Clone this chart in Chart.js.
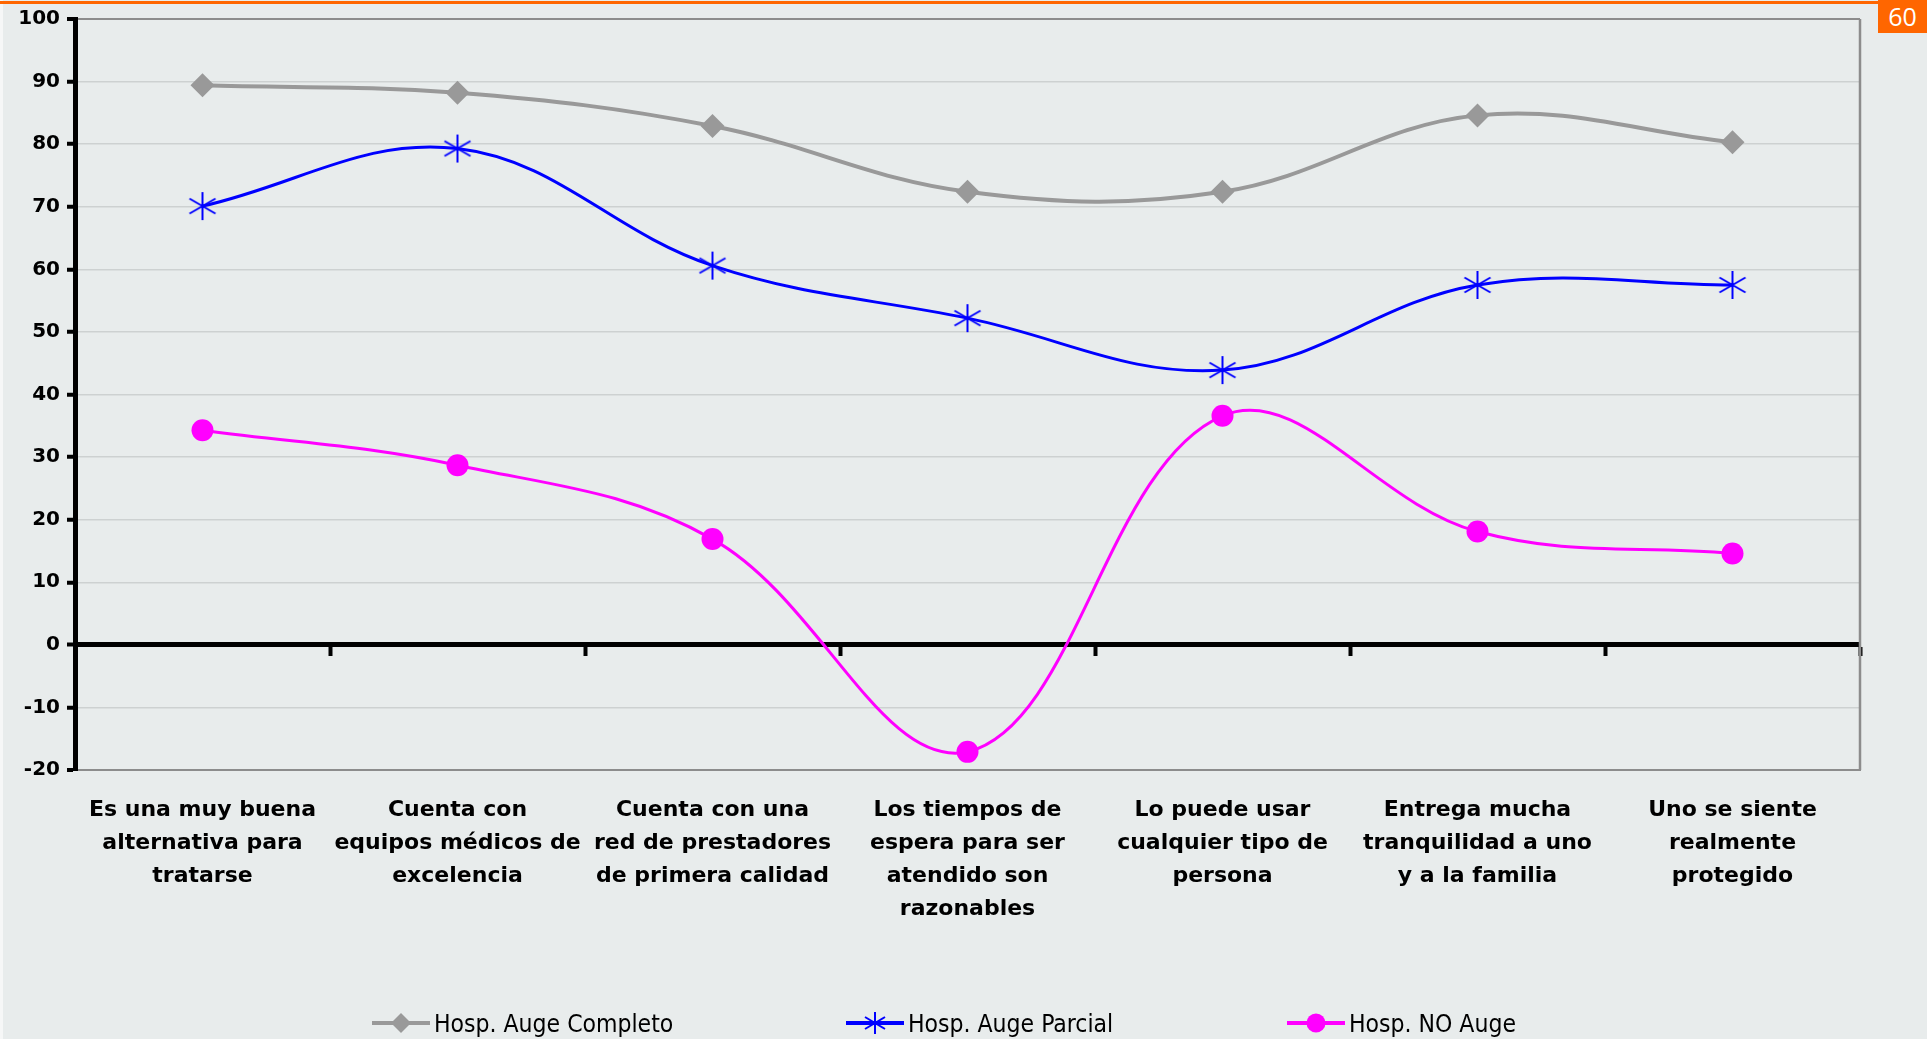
<!DOCTYPE html>
<html>
<head>
<meta charset="utf-8">
<script src="https://cdn.jsdelivr.net/npm/chart.js@4.4.1/dist/chart.umd.min.js"></script>
<style>
  html, body { margin: 0; padding: 0; background: #e8ecec; overflow: hidden; }
  #wrap { position: relative; width: 1927px; height: 1039px; background: #e8ecec; }
  #wrap canvas { position: absolute; left: 0; top: 0; }
  #leftstrip { position: absolute; left: 0; top: 0; width: 3px; height: 1039px; background: #f6f7f7; }
  #topbar { position: absolute; left: 0; top: 1px; width: 1927px; height: 3px; background: #ff6600; }
  #badge { position: absolute; left: 1878px; top: 0; width: 49px; height: 33px; background: #ff6600;
           color: #fff; font: 25px 'Open Sans', sans-serif; text-align: center; line-height: 33px; }
  .item { position: absolute; top: 1008px; height: 30px; display: flex; align-items: center;
          font: 24.5px 'DejaVu Sans Condensed', 'DejaVu Sans', sans-serif; color: #000; white-space: nowrap; }
  .item svg { margin-right: 4px; }
</style>
</head>
<body>
<div id="wrap">
  <canvas id="chart" width="1927" height="1039"></canvas>
  <div id="leftstrip"></div>
  <div id="topbar"></div>
  <div id="badge">60</div>
  <div class="item" style="left:372px">
    <svg width="58" height="24"><line x1="0" y1="12" x2="58" y2="12" stroke="#999999" stroke-width="4"/><polygon points="29,2 39,12 29,22 19,12" fill="#999999"/></svg>
    <span>Hosp. Auge Completo</span>
  </div>
  <div class="item" style="left:846px">
    <svg width="58" height="24"><line x1="0" y1="12" x2="58" y2="12" stroke="#0000ff" stroke-width="4"/>
      <g stroke="#0000ff" stroke-width="2"><line x1="29" y1="1" x2="29" y2="23"/><line x1="19" y1="6" x2="39" y2="18"/><line x1="19" y1="18" x2="39" y2="6"/></g></svg>
    <span>Hosp. Auge Parcial</span>
  </div>
  <div class="item" style="left:1287px">
    <svg width="58" height="24"><line x1="0" y1="12" x2="58" y2="12" stroke="#ff00ff" stroke-width="4"/><circle cx="29" cy="12" r="9.5" fill="#ff00ff"/></svg>
    <span>Hosp. NO Auge</span>
  </div>
</div>
<script>
const categories = [
  ['Es una muy buena', 'alternativa para', 'tratarse'],
  ['Cuenta con', 'equipos médicos de', 'excelencia'],
  ['Cuenta con una', 'red de prestadores', 'de primera calidad'],
  ['Los tiempos de', 'espera para ser', 'atendido son', 'razonables'],
  ['Lo puede usar', 'cualquier tipo de', 'persona'],
  ['Entrega mucha', 'tranquilidad a uno', 'y a la familia'],
  ['Uno se siente', 'realmente', 'protegido']
];
const seriesNames = ['Hosp. Auge Completo', 'Hosp. Auge Parcial', 'Hosp. NO Auge'];
const augeCompleto = [89.4, 88.2, 82.9, 72.4, 72.4, 84.6, 80.3];
const augeParcial = [70.1, 79.3, 60.6, 52.2, 43.9, 57.5, 57.5];
const noAuge = [34.3, 28.7, 16.9, -17.1, 36.6, 18.1, 14.6];
const yMin = -20, yMax = 100, yStep = 10;

// asterisk marker like the excel one (vertical + two diagonals)
function makeStar(color) {
  const c = document.createElement('canvas');
  c.width = 32; c.height = 32;
  const g = c.getContext('2d');
  g.strokeStyle = color;
  g.lineWidth = 2;
  g.beginPath();
  g.moveTo(16, 2); g.lineTo(16, 30);
  g.moveTo(3, 8.5); g.lineTo(29, 23.5);
  g.moveTo(3, 23.5); g.lineTo(29, 8.5);
  g.stroke();
  return c;
}

const frame = {
  id: 'frame',
  beforeDatasetsDraw(chart) {
    const {ctx, chartArea: a} = chart;
    ctx.save();
    ctx.strokeStyle = '#8c8c8c';
    ctx.lineWidth = 2.5;
    ctx.beginPath();
    ctx.moveTo(a.right, a.top);
    ctx.lineTo(a.right, a.bottom);
    ctx.stroke();
    ctx.restore();
  }
};

new Chart(document.getElementById('chart'), {
  type: 'line',
  data: {
    labels: categories,
    datasets: [
      {
        label: seriesNames[0],
        data: augeCompleto,
        borderColor: '#999999',
        backgroundColor: '#999999',
        borderWidth: 4,
        pointStyle: 'rectRot',
        pointRadius: 12,
        pointBorderWidth: 0,
        tension: 0.38
      },
      {
        label: seriesNames[1],
        data: augeParcial,
        borderColor: '#0000ff',
        backgroundColor: '#0000ff',
        borderWidth: 3,
        pointStyle: makeStar('#0000ff'),
        tension: 0.38
      },
      {
        label: seriesNames[2],
        data: noAuge,
        borderColor: '#ff00ff',
        backgroundColor: '#ff00ff',
        borderWidth: 3,
        pointStyle: 'circle',
        pointRadius: 11,
        pointBorderWidth: 0,
        tension: 0.38
      }
    ]
  },
  options: {
    responsive: false,
    animation: false,
    layout: { padding: { top: 19, right: 67, left: 0, bottom: 0 } },
    plugins: {
      legend: { display: false },
      tooltip: { enabled: false }
    },
    scales: {
      x: {
        type: 'category',
        offset: true,
        grid: { display: false },
        border: { display: true, color: '#8c8c8c', width: 2 },
        ticks: {
          color: '#000',
          font: { family: 'DejaVu Sans', weight: 'bold', size: 22, lineHeight: 1.5 },
          padding: 16,
          maxRotation: 0,
          autoSkip: false
        },
        afterFit(scale) { scale.height = 269; }
      },
      x0: {
        type: 'category',
        axis: 'x',
        offset: true,
        position: { y: 0 },
        grid: { display: true, offset: true, drawOnChartArea: false, drawTicks: true,
                tickLength: 9, tickColor: '#000', tickWidth: 4 },
        border: { display: true, color: '#000', width: 5 },
        ticks: { display: false }
      },
      y: {
        min: yMin,
        max: yMax,
        ticks: {
          stepSize: yStep,
          color: '#000',
          font: { family: 'DejaVu Sans', weight: 'bold', size: 20 },
          padding: 7
        },
        grid: {
          color: c => c.tick.value === 0 ? '#000' : (c.tick.value === yMax || c.tick.value === yMin ? '#8c8c8c' : '#cdd1d1'),
          lineWidth: c => c.tick.value === 0 ? 5 : (c.tick.value === yMax || c.tick.value === yMin ? 2 : 1.5),
          tickColor: '#000',
          tickWidth: 4,
          tickLength: 8
        },
        border: { color: '#000', width: 5 },
        afterFit(scale) { scale.width = 75; }
      }
    }
  },
  plugins: [frame]
});
</script>
</body>
</html>
